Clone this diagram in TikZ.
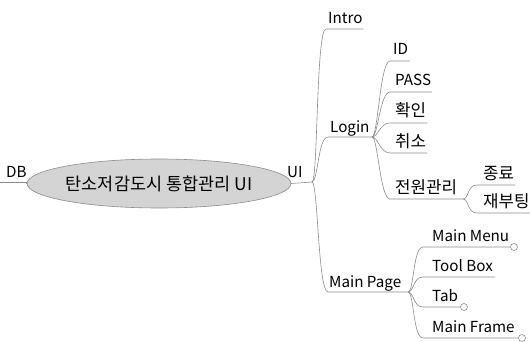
\documentclass[tikz,border=0pt]{standalone}
\usepackage{fontspec}
\setmainfont{Noto Sans CJK KR}
\usetikzlibrary{shapes.geometric}
\definecolor{linegray}{HTML}{8C8C8C}
\definecolor{rootfill}{HTML}{D4D4D4}
\newcommand\mmbranch[3]{\draw[conn] (#1) .. controls +(6,0) and +(-10,0) .. (#2) -- (#3);}
\begin{document}
\begin{tikzpicture}[x=1pt,y=-1pt,
  lbl/.style={anchor=base west, inner sep=0pt, font=\fontsize{15.2}{17}\selectfont},
  krl/.style={lbl, font=\fontsize{16.8}{18}\selectfont},
  conn/.style={draw=linegray, line width=0.6pt},
  tipc/.style={circle, draw=linegray, fill=white, line width=0.6pt, minimum size=7pt, inner sep=0pt},
  rootnode/.style={ellipse, draw=linegray, fill=rootfill, line width=0.6pt, minimum width=212pt, minimum height=49pt, inner sep=0pt, font=\fontsize{17.5}{19}\selectfont}]
\useasboundingbox (0,0) rectangle (530,342);

% root
\node[rootnode] (root) at (159,183.5) {\raisebox{-3pt}{탄소저감도시 통합관리 UI}};

% DB
\coordinate (dbEnd) at (0,182);
\node[lbl] (db) at (6,177) {DB};
\draw[conn] (dbEnd) -- (root.west |- dbEnd) -- (root.west);

% UI
\coordinate (bpU) at (312,182);
\node[lbl] (ui) at (287,177) {UI};
\draw[conn] (root.east) -- (bpU);

% UI children
\coordinate (introS) at (326,29);  \coordinate (introE) at (363,29);
\coordinate (loginS) at (328,137); \coordinate (bpL) at (372,137);
\coordinate (mpS) at (328,292);    \coordinate (bpM) at (408,292);
\node[lbl] (intro) at (328,24) {Intro};
\node[lbl] (login) at (330,132) {Login};
\node[lbl] (mainpage) at (329,287) {Main Page};
\mmbranch{bpU}{introS}{introE}
\mmbranch{bpU}{loginS}{bpL}
\mmbranch{bpU}{mpS}{bpM}

% Login children
\coordinate (idS) at (390,61);   \coordinate (idE) at (410,61);
\coordinate (passS) at (390,92); \coordinate (passE) at (432,92);
\coordinate (okS) at (390,123);  \coordinate (okE) at (427,123);
\coordinate (noS) at (390,153);  \coordinate (noE) at (427,153);
\coordinate (pwS) at (390,199);  \coordinate (bpP) at (463,199);
\node[lbl] (id) at (393,55) {ID};
\node[lbl] (pass) at (395,86) {PASS};
\node[krl] (ok) at (395,117) {확인};
\node[krl] (no) at (395,147) {취소};
\node[krl] (pw) at (395,193) {전원관리};
\mmbranch{bpL}{idS}{idE}
\mmbranch{bpL}{passS}{passE}
\mmbranch{bpL}{okS}{okE}
\mmbranch{bpL}{noS}{noE}
\mmbranch{bpL}{pwS}{bpP}

% power children
\coordinate (endS) at (477,185);  \coordinate (endE) at (515,185);
\coordinate (rbS) at (477,213);   \coordinate (rbE) at (530,213);
\node[krl] (quit) at (483,179) {종료};
\node[krl] (reboot) at (483,207) {재부팅};
\mmbranch{bpP}{endS}{endE}
\mmbranch{bpP}{rbS}{rbE}

% Main Page children
\coordinate (mmS) at (423,247);  \coordinate (mmE) at (510.5,247);
\coordinate (tbS) at (423,277);  \coordinate (tbE) at (495,277);
\coordinate (tabS) at (423,307); \coordinate (tabE) at (460.5,307);
\coordinate (mfS) at (423,338);  \coordinate (mfE) at (518.5,338);
\node[lbl] (mm) at (432,241) {Main Menu};
\node[lbl] (tb) at (432,271) {Tool Box};
\node[lbl] (tab) at (432,301) {Tab};
\node[lbl] (mf) at (432,332) {Main Frame};
\node[tipc] (mmTip) at (514,247) {};
\node[tipc] (tabTip) at (464,307) {};
\node[tipc] (mfTip) at (522,338) {};
\mmbranch{bpM}{mmS}{mmTip.west}
\mmbranch{bpM}{tbS}{tbE}
\mmbranch{bpM}{tabS}{tabTip.west}
\mmbranch{bpM}{mfS}{mfTip.west}
\end{tikzpicture}
\end{document}
